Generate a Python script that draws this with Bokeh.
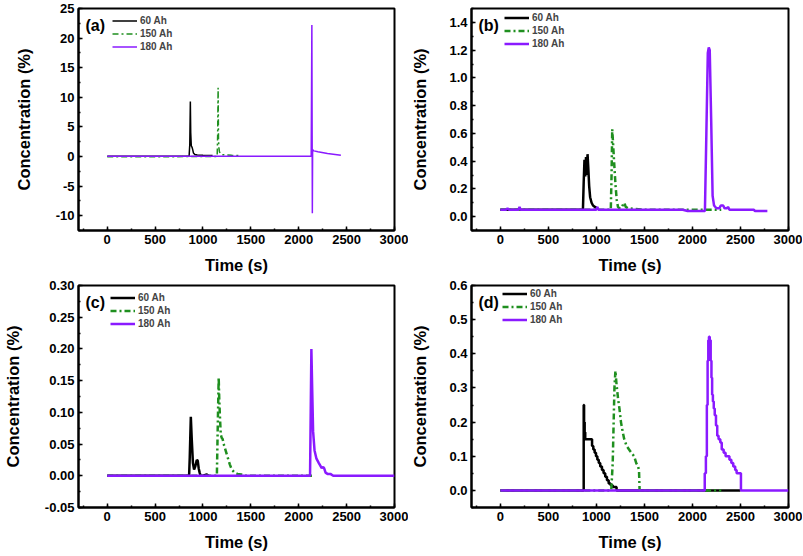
from bokeh.plotting import figure
from bokeh.layouts import gridplot
from bokeh.models import Range1d, SingleIntervalTicker, NumeralTickFormatter, Label
from bokeh.embed import file_html
from bokeh.resources import INLINE

# ---------------- data ----------------
series_names = ["60 Ah", "150 Ah", "180 Ah"]
x_title = "Time (s)"
y_title = "Concentration (%)"

# (a)
a60_t = [0, 300, 600, 855, 862, 868, 872, 878, 885, 892, 900, 915, 940, 1000, 1100]
a60_c = [0.05, 0.05, 0.05, 0.05, 2.0, 9.3, 4.0, 1.8, 1.6, 1.2, 0.6, 0.35, 0.25, 0.2, 0.15]
a150_t = [0, 500, 1000, 1148, 1153, 1158, 1162, 1166, 1172, 1180, 1200, 1250, 1300, 1370]
a150_c = [-0.05, -0.05, 0.0, 0.0, 3.5, 11.6, 3.0, 1.5, 0.8, 0.5, 0.3, 0.25, 0.2, 0.15]
a180_t = [0, 500, 1000, 1500, 2000, 2130, 2137, 2140, 2142, 2145, 2150, 2160, 2200, 2300, 2400, 2440]
a180_c = [0.05, 0.05, 0.05, 0.05, 0.05, 0.05, 22.2, 3.5, -9.6, 1.2, 1.0, 0.95, 0.8, 0.5, 0.3, 0.2]

# (b)
b60_t = [0, 200, 400, 600, 860, 868, 876, 884, 892, 900, 908, 916, 925, 935, 950, 965, 985, 1010]
b60_c = [0.05, 0.05, 0.05, 0.05, 0.05, 0.25, 0.41, 0.29, 0.43, 0.30, 0.45, 0.35, 0.22, 0.14, 0.10, 0.08, 0.07, 0.06]
b150_t = [0, 400, 800, 1150, 1158, 1165, 1172, 1180, 1190, 1200, 1212, 1225, 1240, 1260, 1280, 1292, 1305, 1330, 1500, 2000, 2300]
b150_c = [0.05, 0.05, 0.05, 0.05, 0.30, 0.63, 0.55, 0.45, 0.33, 0.22, 0.12, 0.07, 0.06, 0.06, 0.09, 0.10, 0.07, 0.06, 0.05, 0.05, 0.05]
b180_t = [0, 60, 75, 90, 190, 200, 210, 400, 1000, 1010, 1020, 1900, 1950, 2130, 2145, 2160, 2170, 2180,
          2195, 2210, 2225, 2250, 2280, 2295, 2320, 2335, 2360, 2370, 2385, 2640, 2650, 2780]
b180_c = [0.05, 0.05, 0.06, 0.05, 0.05, 0.07, 0.05, 0.05, 0.05, 0.07, 0.05, 0.05, 0.04, 0.04, 0.6, 1.18, 1.22, 1.20,
          0.7, 0.15, 0.08, 0.06, 0.06, 0.08, 0.08, 0.06, 0.06, 0.07, 0.05, 0.05, 0.04, 0.04]

# (c)
c60_t = [0, 400, 855, 862, 873, 882, 895, 907, 920, 935, 945, 955, 965, 975, 1000, 1040, 1060]
c60_c = [0, 0, 0, 0.03, 0.093, 0.06, 0.02, 0.01, 0.015, 0.025, 0.024, 0.012, 0.005, 0.0, 0.0, 0.002, 0.0]
c150_t = [0, 500, 1145, 1152, 1164, 1170, 1178, 1186, 1195, 1205, 1220, 1240, 1260, 1280, 1300, 1330, 1360, 1400, 1430, 1800, 2150]
c150_c = [0, 0, 0, 0.06, 0.155, 0.12, 0.09, 0.065, 0.06, 0.058, 0.048, 0.038, 0.028, 0.018, 0.01, 0.005, 0.003, 0.002, 0.0, 0.0, 0.0]
c180_t = [0, 1000, 2118, 2125, 2132, 2140, 2150, 2165, 2185, 2210, 2240, 2255, 2265, 2280, 2300, 2330, 2360, 3000]
c180_c = [0, 0, 0, 0.1, 0.2, 0.14, 0.07, 0.04, 0.027, 0.02, 0.012, 0.014, 0.012, 0.005, 0.003, 0.003, 0.0, 0.0]

# (d)  (60 Ah and 180 Ah are stair-step records)
d60_t = [0, 868, 872, 878, 884, 955, 968, 982, 996, 1010, 1025, 1040, 1058, 1075, 1092, 1110, 1128, 1148, 1170, 1210, 2500]
d60_c = [0, 0.25, 0.2, 0.17, 0.15, 0.13, 0.12, 0.11, 0.10, 0.09, 0.08, 0.07, 0.06, 0.05, 0.04, 0.03, 0.02, 0.015, 0.01, 0, 0]
d150_t = [0, 600, 1155, 1170, 1188, 1198, 1210, 1225, 1240, 1256, 1275, 1290, 1315, 1340, 1365, 1393, 1415, 1435, 1444, 1450, 2300]
d150_c = [0, 0, 0, 0.08, 0.30, 0.35, 0.31, 0.27, 0.24, 0.20, 0.17, 0.15, 0.13, 0.12, 0.11, 0.10, 0.08, 0.07, 0.057, 0.0, 0.0]
d180_t = [0, 2128, 2140, 2150, 2158, 2165, 2172, 2180, 2190, 2198, 2205, 2213, 2222, 2232, 2245, 2258, 2272,
          2290, 2305, 2325, 2345, 2365, 2385, 2405, 2425, 2445, 2460, 2505, 3000]
d180_c = [0, 0.05, 0.10, 0.25, 0.38, 0.44, 0.45, 0.44, 0.38, 0.33, 0.28, 0.26, 0.24, 0.22, 0.19, 0.16, 0.15,
          0.14, 0.12, 0.11, 0.10, 0.10, 0.09, 0.08, 0.07, 0.06, 0.05, 0, 0]

x_range = (-300, 3000)
x_tick = 500
y_ranges = {"a": (-12.5, 25), "b": (-0.1, 1.5), "c": (-0.05, 0.30), "d": (-0.05, 0.6)}
y_ticks = {"a": 5, "b": 0.2, "c": 0.05, "d": 0.1}
y_formats = {"a": "0", "b": "0.0", "c": "0.00", "d": "0.0"}

# ---------------- style ----------------
FONT = "Liberation Sans"
BLACK = "#000000"
GREEN = "#1f8f1f"
PURPLE = "#8a1aff"
DASHDOT = "6 3 2 3"

FRAME_W = 320
FRAME_H = 222


def make_panel(key, data, step_series, col, row, lw, ytitle_standoff, leg_x, leg_top):
    left = col == 0
    top_b, bot_b = (8, 48) if row == 0 else (7, 48)
    mbl, mbr = (74, 14) if left else (60, 14)
    ylo, yhi = y_ranges[key]
    eps = (yhi - ylo) * 1e-9
    p = figure(width=mbl + FRAME_W + mbr, height=top_b + FRAME_H + bot_b,
               output_backend="svg", toolbar_location=None,
               x_range=Range1d(x_range[0], x_range[1] + 1e-6),
               y_range=Range1d(ylo - eps, yhi + eps),
               min_border_left=mbl, min_border_right=mbr,
               min_border_top=top_b, min_border_bottom=bot_b)
    colors = [BLACK, GREEN, PURPLE]
    dashes = ["solid", DASHDOT, "solid"]
    for i, (t, c) in enumerate(data):
        kw = dict(line_color=colors[i], line_width=lw, line_dash=dashes[i],
                  legend_label=series_names[i])
        if i in step_series:
            p.step(t, c, mode="after", **kw)
        else:
            p.line(t, c, **kw)

    p.xgrid.visible = False
    p.ygrid.visible = False
    p.outline_line_color = "black"
    p.outline_line_width = 2
    p.background_fill_color = "white"
    p.border_fill_color = "white"

    p.xaxis.ticker = SingleIntervalTicker(interval=x_tick, num_minor_ticks=2)
    p.yaxis.ticker = SingleIntervalTicker(interval=y_ticks[key], num_minor_ticks=2)
    p.yaxis.formatter = NumeralTickFormatter(format=y_formats[key])
    p.xaxis.axis_label = x_title
    p.yaxis.axis_label = y_title
    for ax in (p.xaxis[0], p.yaxis[0]):
        ax.axis_line_width = 2
        ax.major_tick_in = 4
        ax.major_tick_out = 0
        ax.minor_tick_in = 2
        ax.minor_tick_out = 0
        ax.major_tick_line_width = 1.5
        ax.minor_tick_line_width = 1.5
        ax.major_label_text_font = FONT
        ax.major_label_text_font_style = "bold"
        ax.major_label_text_font_size = "13px"
        ax.major_label_text_color = "black"
        ax.major_label_standoff = 4
        ax.axis_label_text_font = FONT
        ax.axis_label_text_font_style = "bold"
        ax.axis_label_text_font_size = "16.5px"
        ax.axis_label_text_color = "black"
        ax.axis_label_text_line_height = 1.0
    p.xaxis.axis_label_standoff = 9
    p.yaxis.axis_label_standoff = ytitle_standoff

    # panel tag
    p.add_layout(Label(x=x_range[0], y=yhi, x_offset=7, y_offset=-17,
                       text="(" + key + ")", text_baseline="middle", text_align="left",
                       text_font=FONT, text_font_style="bold", text_font_size="16px",
                       text_color="black"))

    leg = p.legend[0]
    leg_h = 39
    leg.location = (leg_x, FRAME_H - leg_top - leg_h)
    leg.border_line_color = None
    leg.background_fill_alpha = 0
    leg.label_text_font = FONT
    leg.label_text_font_style = "bold"
    leg.label_text_font_size = "10px"
    leg.glyph_width = 25
    leg.glyph_height = 13
    leg.label_height = 13
    leg.label_standoff = 3
    leg.spacing = 0
    leg.padding = 0
    leg.margin = 0
    return p


pa = make_panel("a", [(a60_t, a60_c), (a150_t, a150_c), (a180_t, a180_c)], [], 0, 0, 1.5, 20, 34, 5.5)
pb = make_panel("b", [(b60_t, b60_c), (b150_t, b150_c), (b180_t, b180_c)], [], 1, 0, 2.5, 17, 33, 2.5)
pc = make_panel("c", [(c60_t, c60_c), (c150_t, c150_c), (c180_t, c180_c)], [], 0, 1, 2.5, 20, 32, 5.5)
pd = make_panel("d", [(d60_t, d60_c), (d150_t, d150_c), (d180_t, d180_c)], [0, 2], 1, 1, 2.5, 17, 31, 1.5)

grid = gridplot([[pa, pb], [pc, pd]], toolbar_location=None)

open("out.html", "w").write(file_html(grid, INLINE))
